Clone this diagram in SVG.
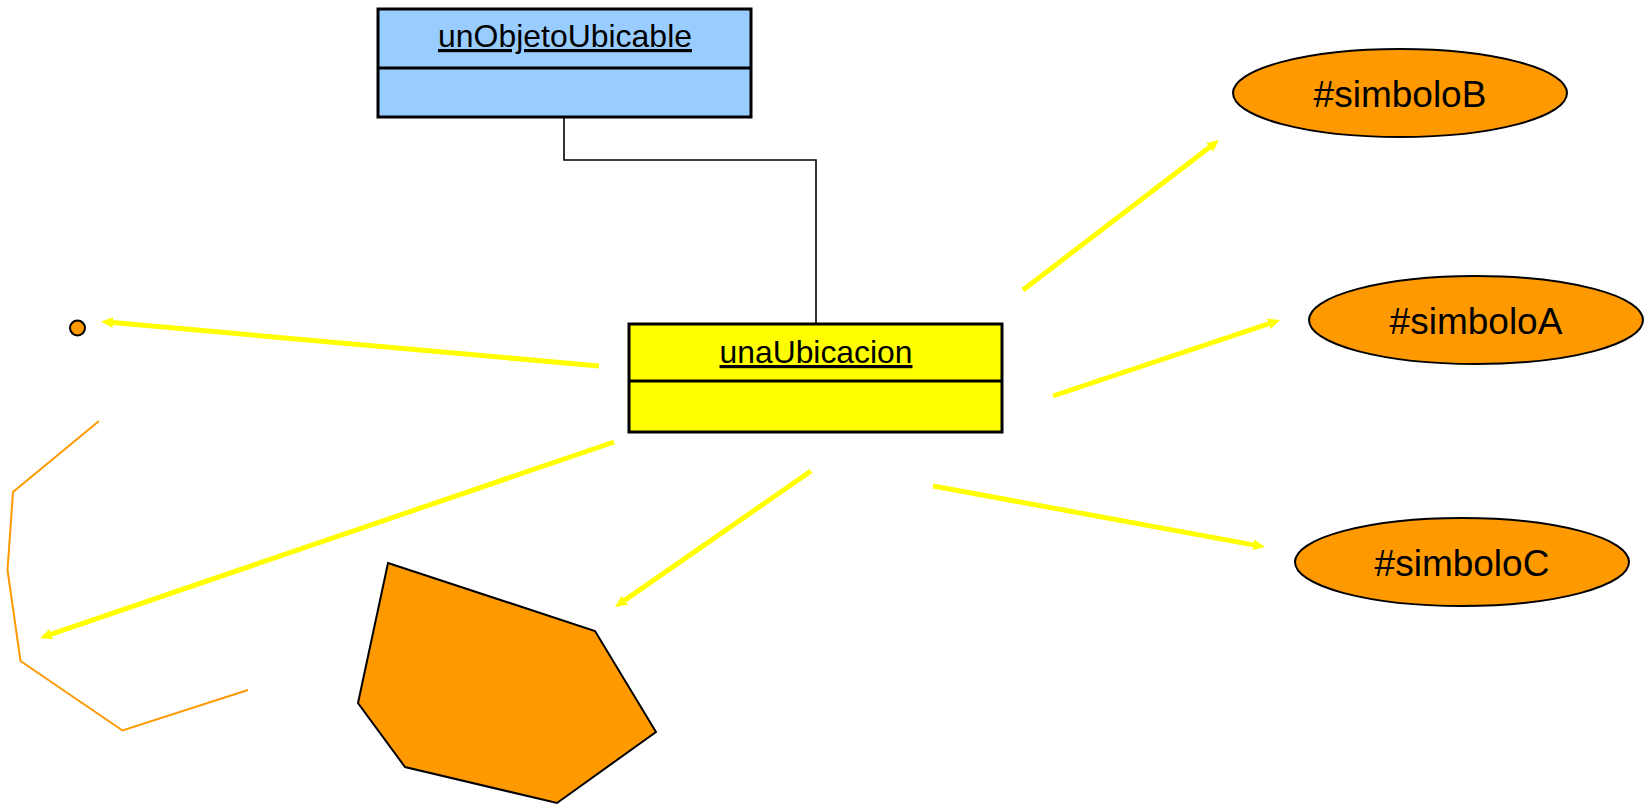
<svg xmlns="http://www.w3.org/2000/svg" width="1649" height="805" viewBox="0 0 1649 805">
  <style>
    .box { stroke: #000; stroke-width: 3; }
    .obj { fill: #99CCFF; }
    .loc { fill: #FFFF00; }
    .title { font-family: "Liberation Sans", Arial, sans-serif; font-size: 32px; fill: #000; text-anchor: middle; text-decoration: underline; }
    .sym { fill: #FF9900; stroke: #000; stroke-width: 2; }
    .symtxt { font-family: "Liberation Sans", Arial, sans-serif; font-size: 37px; fill: #000; text-anchor: middle; }
    .link { fill: none; stroke: #000; stroke-width: 1.6; }
    .ref { fill: none; stroke: #FFFF00; stroke-width: 5; marker-end: url(#head); }
  </style>
  <defs>
    <marker id="head" markerUnits="userSpaceOnUse" markerWidth="12" markerHeight="11" refX="3" refY="5.5" orient="auto">
      <path d="M0,0 L12,5.5 L0,11 z" fill="#FFFF00"/>
    </marker>
  </defs>

  <rect width="1649" height="805" fill="#FFFFFF"/>

  <!-- instance boxes -->
  <g id="unObjetoUbicable">
    <rect class="box obj" x="378" y="9" width="373" height="108"/>
    <line class="box" x1="378" y1="68" x2="751" y2="68"/>
    <text class="title" x="565" y="47" textLength="254" lengthAdjust="spacingAndGlyphs">unObjetoUbicable</text>
  </g>

  <g id="unaUbicacion">
    <rect class="box loc" x="629" y="324" width="373" height="108"/>
    <line class="box" x1="629" y1="381" x2="1002" y2="381"/>
    <text class="title" x="816" y="363" textLength="193" lengthAdjust="spacingAndGlyphs">unaUbicacion</text>
  </g>

  <!-- symbols -->
  <g id="simboloB">
    <ellipse class="sym" cx="1400" cy="93" rx="167" ry="44"/>
    <text class="symtxt" x="1400" y="107">#simboloB</text>
  </g>
  <g id="simboloA">
    <ellipse class="sym" cx="1476" cy="320" rx="167" ry="44"/>
    <text class="symtxt" x="1476" y="334">#simboloA</text>
  </g>
  <g id="simboloC">
    <ellipse class="sym" cx="1462" cy="562" rx="167" ry="44"/>
    <text class="symtxt" x="1462" y="576">#simboloC</text>
  </g>

  <!-- point -->
  <g id="punto">
    <circle cx="77.5" cy="328" r="7.5" fill="#FF9900" stroke="#000" stroke-width="2"/>
  </g>

  <!-- open polyline -->
  <g id="polilinea">
    <polyline points="99,421 13,492 7.5,570 20.5,661 122.5,730.5 248,690" fill="none" stroke="#FF9900" stroke-width="2"/>
  </g>

  <!-- filled polygon -->
  <g id="poligono">
    <polygon class="sym" points="388,563 595,631 656,732 557,803 405,767 358,703"/>
  </g>

  <!-- connectors -->
  <g id="connectors">
    <polyline class="link" points="564,117 564,160 816,160 816,324"/>
    <line class="ref" x1="1023" y1="290" x2="1211.9" y2="145.5"/>
    <line class="ref" x1="1053" y1="396" x2="1271.5" y2="322.9"/>
    <line class="ref" x1="933" y1="486" x2="1256.2" y2="545.4"/>
    <line class="ref" x1="599" y1="366" x2="110" y2="322.3"/>
    <line class="ref" x1="614" y1="442" x2="48.5" y2="635.1"/>
    <line class="ref" x1="811" y1="471" x2="622.4" y2="601.9"/>
  </g>
</svg>
